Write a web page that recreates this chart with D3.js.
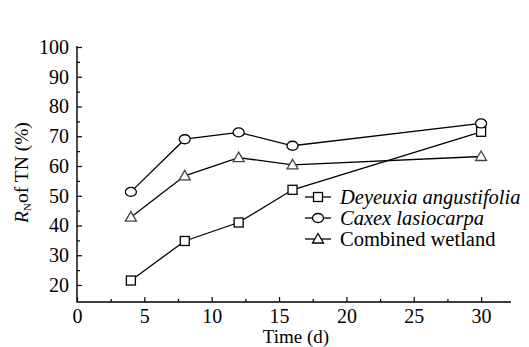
<!DOCTYPE html>
<html>
<head>
<meta charset="utf-8">
<script src="https://cdn.jsdelivr.net/npm/d3@7"></script>
</head>
<body style="margin:0;background:#fff">
<div id="container"></div>
<script>
const width = 529;
const height = 347;
const fontFamily = "Liberation Serif";

// data
const days = [4, 8, 12, 16, 30];
const deyeuxia = [21.5, 34.8, 41.0, 52.0, 71.5];
const caxex = [51.3, 69.0, 71.3, 66.8, 74.3];
const combined = [42.8, 56.7, 62.8, 60.4, 63.2];
const seriesNames = ["Deyeuxia angustifolia", "Caxex lasiocarpa", "Combined wetland"];
const xTicks = [0, 5, 10, 15, 20, 25, 30];
const xMinorTicks = [2.5, 7.5, 12.5, 17.5, 22.5, 27.5];
const yTicks = [20, 30, 40, 50, 60, 70, 80, 90, 100];
const yMinorTicks = [25, 35, 45, 55, 65, 75, 85, 95];

// layout
const x0 = 77, x1 = 511;
const yBottom = 302;

const x = d3.scaleLinear().domain([0, 32.22]).range([x0, x1]);
const y = d3.scaleLinear().domain([20, 100]).range([285, 47]);

const svg = d3.select("#container").append("svg")
    .attr("width", width)
    .attr("height", height)
    .attr("font-family", fontFamily);

// axes
const xAxis = d3.axisBottom(x).tickValues(xTicks).tickSize(-5).tickPadding(7).tickFormat(d3.format("d"));
const xMinor = d3.axisBottom(x).tickValues(xMinorTicks).tickSize(-3).tickFormat("");
const yAxis = d3.axisLeft(y).tickValues(yTicks).tickSize(-5).tickPadding(8).tickFormat(d3.format("d"));
const yMinor = d3.axisLeft(y).tickValues(yMinorTicks).tickSize(-3).tickFormat("");

function styleAxis(g) {
    g.attr("font-family", fontFamily).attr("font-size", 20);
    g.select(".domain").remove();
    g.selectAll("line").attr("stroke", "#000").attr("stroke-width", 1.2);
    g.selectAll("text").attr("fill", "#000");
}

svg.append("g").attr("transform", `translate(0,${yBottom})`).call(xAxis).call(styleAxis);
svg.append("g").attr("transform", `translate(0,${yBottom})`).call(xMinor).call(styleAxis);
svg.append("g").attr("transform", `translate(${x0},0)`).call(yAxis).call(styleAxis);
svg.append("g").attr("transform", `translate(${x0},0)`).call(yMinor).call(styleAxis);

// axis lines
svg.append("path")
    .attr("d", `M${x0},${y(100) - 1}V${yBottom}H${x1}`)
    .attr("fill", "none")
    .attr("stroke", "#000")
    .attr("stroke-width", 1.4);

// axis titles
svg.append("text")
    .attr("x", 296)
    .attr("y", 343)
    .attr("text-anchor", "middle")
    .attr("font-size", 19)
    .text("Time (d)");

const yl = svg.append("text")
    .attr("transform", `translate(28,${(47 + yBottom) / 2 - 2}) rotate(-90)`)
    .attr("text-anchor", "middle")
    .attr("font-size", 19.5);
yl.append("tspan").attr("font-style", "italic").text("R");
yl.append("tspan").attr("font-size", 11).attr("dy", 3).text("N");
yl.append("tspan").attr("dy", -3).text("of TN (%)");

// series
const line = d3.line().x(d => x(d[0])).y(d => y(d[1]));
const allSeries = [deyeuxia, caxex, combined];
const shapes = ["square", "circle", "triangle"];

function drawMarker(g, shape, cx, cy) {
    if (shape === "square") {
        g.append("rect").attr("x", cx - 4.5).attr("y", cy - 4.5).attr("width", 9).attr("height", 9);
    } else if (shape === "circle") {
        g.append("ellipse").attr("cx", cx).attr("cy", cy).attr("rx", 5.5).attr("ry", 4.5);
    } else {
        g.append("path").attr("d", `M${cx},${cy - 5.5}L${cx + 5.5},${cy + 4}L${cx - 5.5},${cy + 4}Z`);
    }
}

allSeries.forEach((vals, i) => {
    const pts = days.map((d, j) => [d, vals[j]]);
    svg.append("path")
        .attr("d", line(pts))
        .attr("fill", "none")
        .attr("stroke", "#000")
        .attr("stroke-width", 1.3);
    const mg = svg.append("g")
        .attr("fill", "#fff")
        .attr("stroke", i === 2 ? "#444" : "#000")
        .attr("stroke-width", 1.3);
    pts.forEach(p => drawMarker(mg, shapes[i], x(p[0]), y(p[1])));
});

// legend
const legendX = 305, legendY = 197, legendStep = 21;
seriesNames.forEach((name, i) => {
    const ly = legendY + i * legendStep;
    svg.append("line")
        .attr("x1", legendX).attr("x2", legendX + 26)
        .attr("y1", ly).attr("y2", ly)
        .attr("stroke", "#000").attr("stroke-width", 1.3);
    const mg = svg.append("g").attr("fill", "#fff").attr("stroke", "#000").attr("stroke-width", 1.3);
    drawMarker(mg, shapes[i], legendX + 13, ly);
    svg.append("text")
        .attr("x", legendX + 35)
        .attr("y", ly + 7)
        .attr("font-size", 20.5)
        .attr("font-style", i < 2 ? "italic" : "normal")
        .text(name);
});
</script>
</body>
</html>
